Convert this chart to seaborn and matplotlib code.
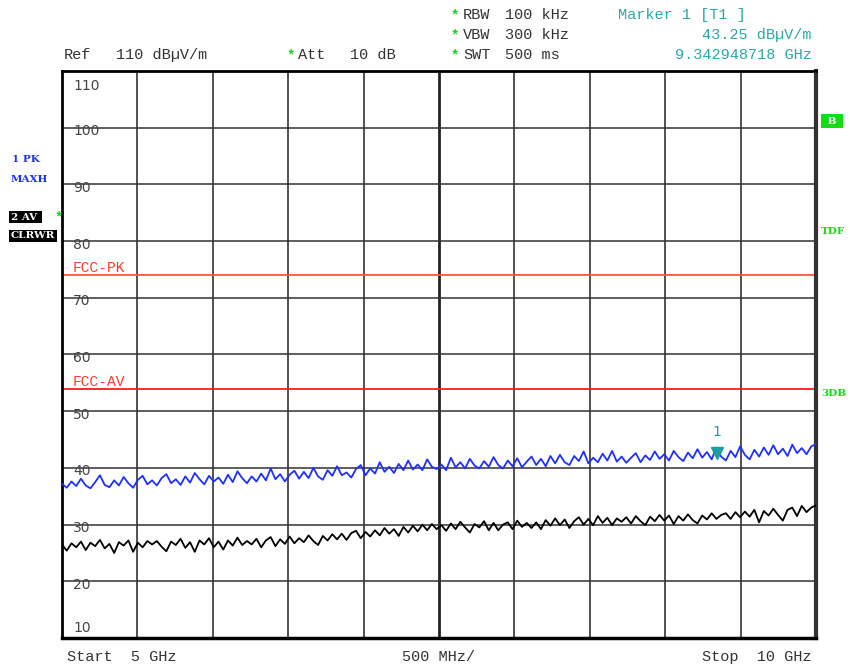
import numpy as np
import pandas as pd
import seaborn as sns
import matplotlib.pyplot as plt

# trace 1 (PK / MAXH), dBuV/m, sweep 5 -> 10 GHz
pk_trace = [
    37.2, 36.5, 37.6, 36.8, 38.1, 36.9, 36.4, 37.5, 38.7, 37.0, 36.6, 37.8, 36.9, 38.4, 37.3, 36.5, 37.9, 38.6, 37.1, 37.8,
    36.9, 38.2, 38.9, 37.3, 38.0, 37.0, 38.5, 37.4, 39.1, 38.0, 37.1, 38.6, 37.6, 38.3, 37.2, 38.8, 37.5, 39.4, 38.2, 37.3,
    38.5, 37.6, 39.0, 37.8, 39.9, 38.0, 38.9, 37.6, 38.8, 39.5, 38.1, 39.3, 38.2, 40.0, 38.5, 37.9, 39.6, 38.6, 40.3, 38.7,
    39.2, 38.3, 39.8, 40.5, 38.7, 39.9, 39.0, 41.0, 39.3, 40.2, 39.1, 40.7, 39.6, 41.3, 39.7, 40.6, 39.6, 41.5, 40.2, 39.8,
    40.6, 39.6, 41.8, 40.1, 41.0, 39.9, 41.6, 40.4, 39.9, 41.2, 40.2, 41.9, 40.5, 39.9, 41.3, 40.3, 41.7, 40.1, 41.1, 42.0,
    40.5, 41.6, 40.3, 42.1, 40.8, 42.3, 41.0, 40.5, 42.1, 41.2, 42.9, 40.8, 41.8, 41.0, 42.5, 41.3, 43.0, 41.1, 42.0, 40.9,
    41.8, 42.6, 41.0, 42.2, 41.4, 42.9, 41.6, 42.4, 41.3, 43.0, 41.9, 41.2, 42.7, 41.7, 43.3, 41.8, 42.8, 41.5, 43.6, 42.0,
    41.3, 43.0, 41.9, 43.8, 42.3, 41.5, 43.2, 42.0, 43.6, 42.3, 44.0, 42.4, 43.4, 42.1, 44.1, 42.6, 43.5, 42.4, 43.8, 44.2,
]
# trace 2 (AV / CLRWR)
av_trace = [
    26.5, 25.4, 26.7, 26.0, 27.0, 25.5, 26.8, 26.2, 27.3, 25.8, 26.6, 25.0, 26.9, 26.3, 27.2, 25.2, 26.8, 26.0, 27.1, 26.5,
    27.1, 26.1, 25.3, 27.0, 26.4, 27.5, 25.9, 26.9, 25.2, 27.2, 26.5, 27.6, 26.0, 27.0, 25.6, 27.2, 26.3, 27.7, 26.4, 27.1,
    26.5, 27.5, 26.0, 27.2, 27.8, 26.2, 27.4, 26.6, 27.9, 26.7, 27.6, 26.9, 28.1, 27.1, 26.4, 28.0, 27.2, 28.3, 27.4, 28.4,
    27.3, 28.5, 28.9, 27.6, 28.7, 27.9, 29.0, 28.1, 29.4, 28.4, 29.2, 28.0, 29.6, 28.6, 29.8, 28.8, 30.0, 29.0, 30.1, 29.2,
    29.9, 28.9, 30.2, 29.2, 30.5, 29.5, 28.6, 30.1, 29.5, 30.6, 29.0, 30.3, 29.0, 30.0, 30.4, 29.2, 30.7, 29.6, 30.3, 29.4,
    30.4, 29.2, 30.8, 29.8, 31.1, 29.9, 30.9, 29.4, 30.6, 31.3, 30.0, 31.0, 29.9, 31.5, 30.3, 31.2, 29.9, 31.1, 30.5, 31.3,
    30.2, 31.5, 30.6, 29.9, 31.4, 30.6, 31.7, 30.7, 31.6, 30.1, 31.5, 30.7, 31.8, 30.8, 30.2, 31.6, 30.9, 32.0, 31.0, 31.7,
    32.0, 31.0, 32.2, 31.3, 32.3, 31.4, 32.6, 30.4, 32.4, 31.6, 32.8, 31.7, 30.7, 32.6, 33.0, 31.5, 33.3, 32.2, 33.0, 33.4,
]
start_ghz, stop_ghz = 5.0, 10.0
ref_levels = [110, 100, 90, 80, 70, 60, 50, 40, 30, 20, 10]
limit_names = ["FCC-PK", "FCC-AV"]
limit_values = [74, 54]
marker_freq = 9.342948718
marker_level = 43.25

freq = np.linspace(start_ghz, stop_ghz, len(pk_trace))
df = pd.DataFrame({"freq": np.concatenate([freq, freq]),
                   "level": pk_trace + av_trace,
                   "trace": ["PK"] * len(pk_trace) + ["AV"] * len(av_trace)})

sns.set_style("white")
plt.rcParams["font.family"] = ["DejaVu Sans"]
mono = "Liberation Mono"

fig = plt.figure(figsize=(8.5, 6.7), dpi=100)
W, H = 850, 670
ax = fig.add_axes([62 / W, 1 - 638 / H, 754 / W, 567 / H])

def px(x, y):
    return x / W, 1 - y / H

# grid
for f in np.arange(5.5, 10.0, 0.5):
    lw = 2 if abs(f - 7.5) < 1e-6 else 1.1
    ax.axvline(f, color="#222222", lw=lw, zorder=1)
for lv in ref_levels[1:-1]:
    ax.axhline(lv, color="#333333", lw=1.1, zorder=1)

# limit lines
ax.axhline(limit_values[0], color="#ff5533", lw=1.3, zorder=2)
ax.axhline(limit_values[1], color="#ff1a1a", lw=1.3, zorder=2)
for name, val in zip(limit_names, limit_values):
    ax.text(5.073, val + 1.2, name, color="#ff3b2b", fontsize=10.5, family=mono,
            ha="left", va="center", zorder=3)

sns.lineplot(data=df, x="freq", y="level", hue="trace",
             palette={"PK": "#1f2fff", "AV": "#000000"}, lw=1.3,
             legend=False, ax=ax, zorder=4)

# marker
ax.plot([marker_freq], [42.7], marker="v", color="#1a9e9e", ms=8, zorder=5)
ax.text(marker_freq, 46.3, "1", color="#1a9e9e", fontsize=10, ha="center", va="center", zorder=5)

# level labels inside the grid
for lv in ref_levels:
    y = lv - 0.6
    if lv == 110:
        y = 107.4
    if lv == 10:
        y = 11.8
    ax.text(5.073, y, str(lv), color="#444444", fontsize=10, ha="left", va="center", zorder=3)

ax.set_xlim(start_ghz, stop_ghz)
ax.set_ylim(10, 110)
ax.set_xticks([])
ax.set_yticks([])
ax.set_xlabel("")
ax.set_ylabel("")
for side, lw, c in [("left", 2, "black"), ("bottom", 2.5, "black"),
                    ("top", 2, "black"), ("right", 3, "#333333")]:
    ax.spines[side].set_visible(True)
    ax.spines[side].set_linewidth(lw)
    ax.spines[side].set_color(c)

# header
star = "#22cc22"
tc = "#333333"
teal = "#2aa8a8"
fig.text(*px(64, 55), "Ref", family=mono, fontsize=11, color=tc, va="center")
fig.text(*px(116, 55), "110 dBµV/m", family=mono, fontsize=11, color=tc, va="center")
fig.text(*px(287, 55), "*", family=mono, fontsize=10, color=star, va="center", fontweight="bold")
fig.text(*px(298, 55), "Att", family=mono, fontsize=11, color=tc, va="center")
fig.text(*px(350, 55), "10 dB", family=mono, fontsize=11, color=tc, va="center")
for y, lab, val in [(15, "RBW", "100 kHz"), (35, "VBW", "300 kHz"), (55, "SWT", "500 ms")]:
    fig.text(*px(451, y), "*", family=mono, fontsize=10, color=star, va="center", fontweight="bold")
    fig.text(*px(463, y), lab, family=mono, fontsize=11, color=tc, va="center")
    fig.text(*px(505, y), val, family=mono, fontsize=11, color=tc, va="center")
fig.text(*px(618, 15), "Marker 1 [T1 ]", family=mono, fontsize=11, color=teal, va="center")
fig.text(*px(812, 35), f"{marker_level:.2f} dBµV/m", family=mono, fontsize=11, color=teal,
         va="center", ha="right")
fig.text(*px(812, 55), f"{marker_freq:.9f} GHz", family=mono, fontsize=11, color=teal,
         va="center", ha="right")

# footer
fig.text(*px(67, 657), "Start  5 GHz", family=mono, fontsize=11, color=tc, va="center")
fig.text(*px(439, 657), "500 MHz/", family=mono, fontsize=11, color=tc, va="center", ha="center")
fig.text(*px(811, 657), "Stop  10 GHz", family=mono, fontsize=11, color=tc, va="center", ha="right")

# trace labels on the left
blue = "#1f2fff"
fig.text(*px(12, 160), "1 PK", family="DejaVu Serif", fontsize=7.5, color=blue,
         fontweight="bold", va="center")
fig.text(*px(11, 179), "MAXH", family="DejaVu Serif", fontsize=7.5, color=blue,
         fontweight="bold", va="center")
fig.text(*px(11, 217), "2 AV ", family="DejaVu Serif", fontsize=7.5, color="white",
         fontweight="bold", va="center",
         bbox=dict(boxstyle="square,pad=0.15", fc="black", ec="none"))
fig.text(*px(55, 217), "*", family=mono, fontsize=10, color=star, fontweight="bold", va="center")
fig.text(*px(11, 236), "CLRWR", family="DejaVu Serif", fontsize=7.5, color="white",
         fontweight="bold", va="center",
         bbox=dict(boxstyle="square,pad=0.15", fc="black", ec="none"))

# right side labels
green = "#11dd11"
fig.text(*px(832, 121), " B ", family="DejaVu Serif", fontsize=7.5, color="white",
         fontweight="bold", va="center", ha="center",
         bbox=dict(boxstyle="square,pad=0.25", fc=green, ec="none"))
fig.text(*px(821, 232), "TDF", family="DejaVu Serif", fontsize=7.5, color=green,
         fontweight="bold", va="center")
fig.text(*px(821, 393), "3DB", family="DejaVu Serif", fontsize=7.5, color=green,
         fontweight="bold", va="center")

fig.savefig("out.png", dpi=100)
